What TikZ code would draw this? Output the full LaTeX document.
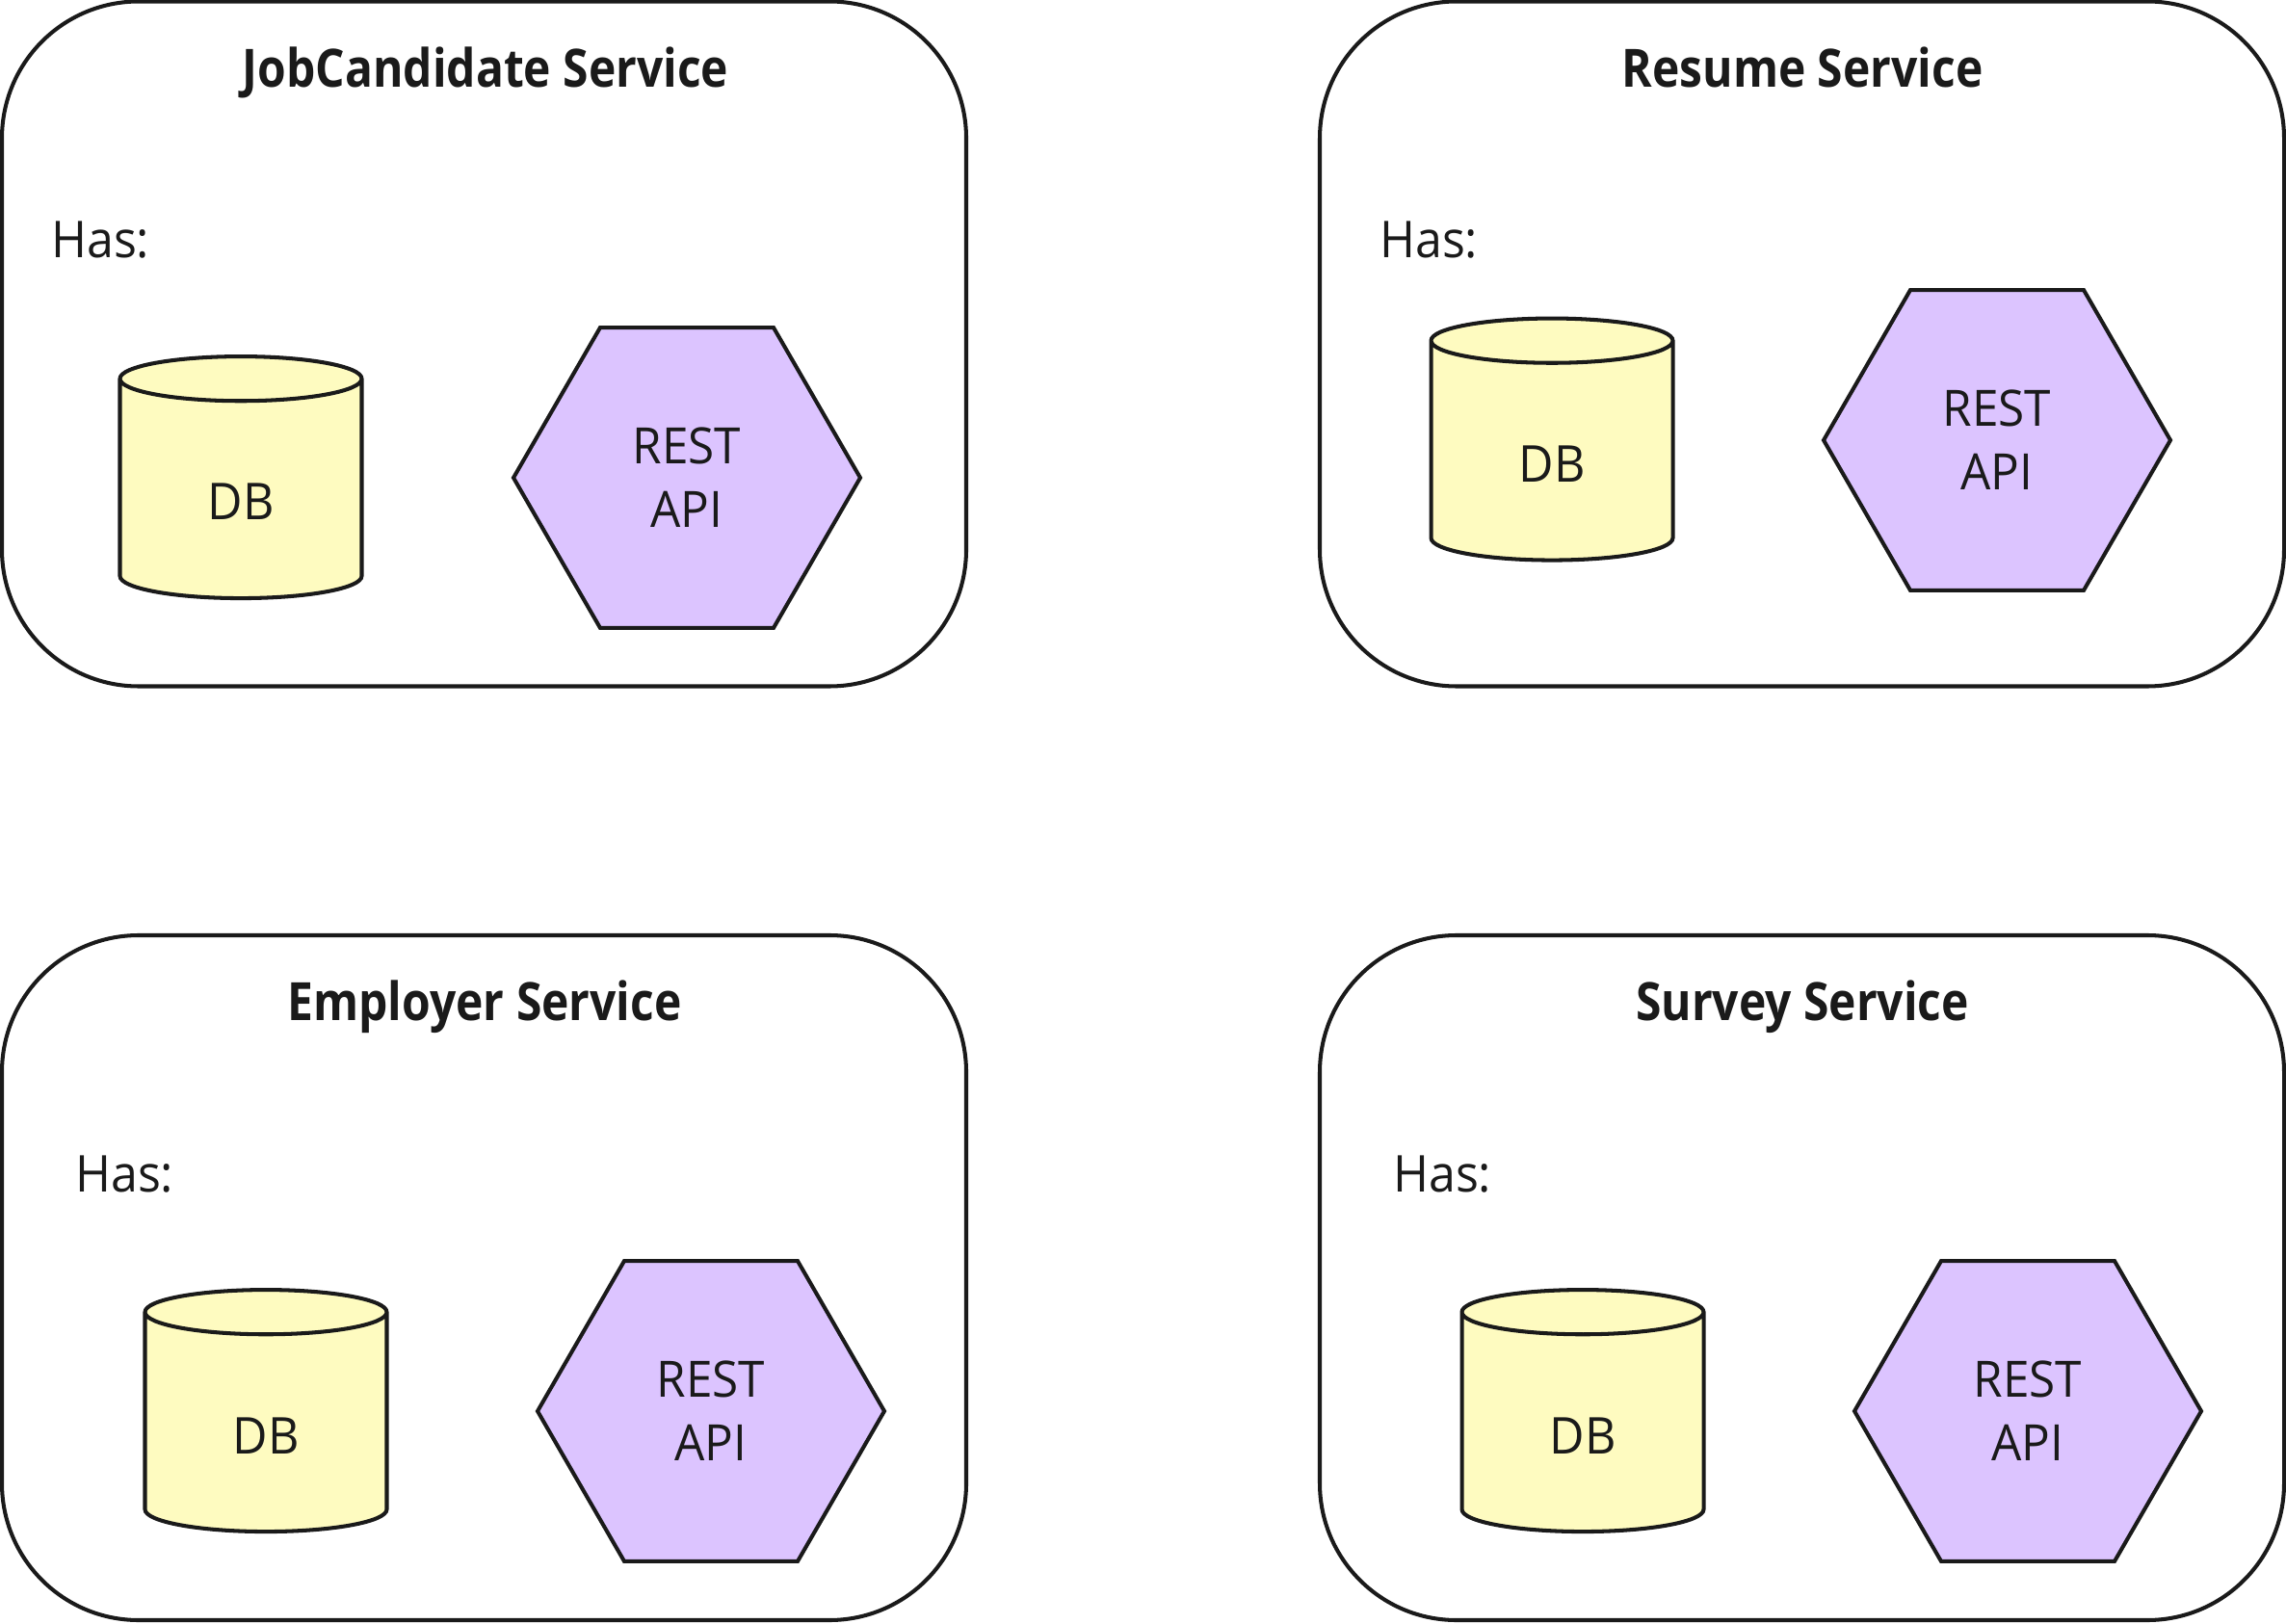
\documentclass[tikz,border=0pt]{standalone}
\usepackage{fontspec}
\setmainfont{Open Sans}[FakeStretch=.95, BoldFeatures={FakeStretch=.875}]
\usepackage{xcolor}
\definecolor{ink_1}{RGB}{26,26,26}
\definecolor{gelb_db}{RGB}{254,251,192}
\definecolor{lila_api}{RGB}{220,196,255}
\usepackage{tikz}
\usetikzlibrary{shapes.geometric}

\tikzset{
  servicebox/.style={draw=ink_1, line width=1.15pt, rounded corners=1.42cm, minimum width=10.01cm, minimum height=7.11cm, outer sep=0pt},
  servicetitle/.style={anchor=base, text=ink_1, font=\fontsize{15.6}{18}\selectfont\bfseries},
  hastext/.style={anchor=base west, text=ink_1, inner sep=0pt, font=\fontsize{15}{18}\selectfont},
  dbnode/.style={cylinder, shape border rotate=90, aspect=.5, draw=ink_1, line width=1.15pt, cylinder uses custom fill, cylinder body fill=gelb_db, cylinder end fill=gelb_db, minimum width=2.51cm, minimum height=2.51cm, outer sep=0pt, text height=.54cm, text=ink_1, font=\fontsize{15}{18}\selectfont},
  apinode/.style={regular polygon, regular polygon sides=6, draw=ink_1, line width=1.15pt, fill=lila_api, minimum size=3.6cm, inner sep=0pt, outer sep=0pt, align=center, text=ink_1, font=\fontsize{14.8}{18.8}\selectfont}
}

\begin{document}
\begin{tikzpicture}
\useasboundingbox (0,0) rectangle (23.73,16.85);
% ---
\node[servicebox] (JCBox) at (5.025,13.28) {};
\node[servicetitle] (JCTitle) at (5.04,15.945) {JobCandidate Service};
\node[hastext] (JCHas) at (.525,14.175) {Has:};
\node[dbnode] (JCDB) at (2.50,11.72) {DB};
\node[apinode] (JCAPI) at (7.13,11.89) {REST\\API};
% ---
\node[servicebox] (RSBox) at (18.705,13.28) {};
\node[servicetitle] (RSTitle) at (18.71,15.945) {Resume Service};
\node[hastext] (RSHas) at (14.315,14.175) {Has:};
\node[dbnode] (RSDB) at (16.11,12.115) {DB};
\node[apinode] (RSAPI) at (20.73,12.28) {REST\\API};
% ---
\node[servicebox] (EMBox) at (5.025,3.585) {};
\node[servicetitle] (EMTitle) at (5.03,6.255) {Employer Service};
\node[hastext] (EMHas) at (.775,4.475) {Has:};
\node[dbnode] (EMDB) at (2.76,2.03) {DB};
\node[apinode] (EMAPI) at (7.38,2.20) {REST\\API};
% ---
\node[servicebox] (SVBox) at (18.705,3.585) {};
\node[servicetitle] (SVTitle) at (18.71,6.255) {Survey Service};
\node[hastext] (SVHas) at (14.455,4.475) {Has:};
\node[dbnode] (SVDB) at (16.43,2.03) {DB};
\node[apinode] (SVAPI) at (21.05,2.20) {REST\\API};
\end{tikzpicture}
\end{document}
